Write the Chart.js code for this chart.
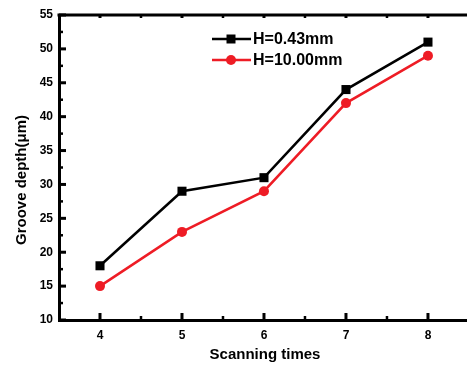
<!DOCTYPE html>
<html>
<head>
<meta charset="utf-8">
<script src="https://cdn.jsdelivr.net/npm/chart.js@4.4.1/dist/chart.umd.min.js"></script>
<style>
html,body{margin:0;padding:0;background:#fff;}
canvas{display:block;}
</style>
</head>
<body>
<canvas id="c" width="467" height="367"></canvas>
<script>
const scanningTimes = [4, 5, 6, 7, 8];
const depthH043 = [18, 29, 31, 44, 51];
const depthH1000 = [15, 23, 29, 42, 49];
const yTicks = [10, 15, 20, 25, 30, 35, 40, 45, 50, 55];
const seriesNames = ['H=0.43mm', 'H=10.00mm'];
const xTitle = 'Scanning times';
const yTitle = 'Groove depth(\u03bcm)';

const RED = '#ee1c25';
const FONT = '"Liberation Sans", Arial, sans-serif';

const axisDeco = {
  id: 'axisDeco',
  afterDraw(chart) {
    const ctx = chart.ctx;
    const xs = chart.scales.x, ys = chart.scales.y;
    const a = chart.chartArea;
    ctx.save();
    ctx.strokeStyle = '#000';
    // top axis line
    ctx.lineWidth = 3;
    ctx.beginPath();
    ctx.moveTo(a.left - 1.5, a.top);
    ctx.lineTo(chart.width, a.top);
    ctx.stroke();
    // y ticks (inward)
    for (let i = 0; i < yTicks.length; i++) {
      const v = yTicks[i];
      const py = ys.getPixelForValue(v);
      ctx.lineWidth = 3;
      ctx.beginPath(); ctx.moveTo(a.left, py); ctx.lineTo(a.left + 7, py); ctx.stroke();
      if (i < yTicks.length - 1) {
        const pm = ys.getPixelForValue((v + yTicks[i + 1]) / 2);
        ctx.lineWidth = 2.5;
        ctx.beginPath(); ctx.moveTo(a.left, pm); ctx.lineTo(a.left + 4, pm); ctx.stroke();
      }
    }
    // x ticks bottom and top
    for (let i = 0; i < scanningTimes.length; i++) {
      const v = scanningTimes[i];
      const px = xs.getPixelForValue(v);
      ctx.lineWidth = 3;
      ctx.beginPath(); ctx.moveTo(px, a.bottom); ctx.lineTo(px, a.bottom - 7); ctx.stroke();
      ctx.beginPath(); ctx.moveTo(px, a.top); ctx.lineTo(px, a.top + 3); ctx.stroke();
      const pm = xs.getPixelForValue(v + 0.5);
      ctx.lineWidth = 2.5;
      ctx.beginPath(); ctx.moveTo(pm, a.bottom); ctx.lineTo(pm, a.bottom - 4); ctx.stroke();
      ctx.beginPath(); ctx.moveTo(pm, a.top); ctx.lineTo(pm, a.top + 3); ctx.stroke();
    }
    // axis titles
    ctx.fillStyle = '#000';
    ctx.font = 'bold 15px ' + FONT;
    ctx.textAlign = 'center';
    ctx.textBaseline = 'middle';
    ctx.fillText(xTitle, 265, 355);
    ctx.save();
    ctx.translate(22, 180);
    ctx.rotate(-Math.PI / 2);
    ctx.fillText(yTitle, 0, 0);
    ctx.restore();
    // legend
    const rows = [39, 60];
    chart.data.datasets.forEach((ds, i) => {
      const y = rows[i];
      ctx.strokeStyle = ds.borderColor;
      ctx.lineWidth = 2.5;
      ctx.beginPath(); ctx.moveTo(212, y); ctx.lineTo(251, y); ctx.stroke();
      ctx.fillStyle = ds.backgroundColor;
      ctx.beginPath();
      if (ds.pointStyle === 'rect') {
        ctx.rect(231 - 4.5, y - 4.5, 9, 9);
      } else {
        ctx.arc(231, y, 5, 0, Math.PI * 2);
      }
      ctx.fill();
      ctx.fillStyle = '#000';
      ctx.font = 'bold 16px ' + FONT;
      ctx.textAlign = 'left';
      ctx.textBaseline = 'middle';
      ctx.fillText(ds.label, 253, y + 1);
    });
    ctx.restore();
  }
};

new Chart(document.getElementById('c'), {
  type: 'line',
  data: {
    datasets: [
      {
        label: seriesNames[0],
        data: scanningTimes.map((x, i) => ({ x, y: depthH043[i] })),
        borderColor: '#000',
        backgroundColor: '#000',
        borderWidth: 2.5,
        pointStyle: 'rect',
        pointRadius: 6.4,
        pointHoverRadius: 6.4,
        pointBorderWidth: 0,
        tension: 0
      },
      {
        label: seriesNames[1],
        data: scanningTimes.map((x, i) => ({ x, y: depthH1000[i] })),
        borderColor: RED,
        backgroundColor: RED,
        borderWidth: 2.5,
        pointStyle: 'circle',
        pointRadius: 5,
        pointHoverRadius: 5,
        pointBorderWidth: 0,
        tension: 0
      }
    ]
  },
  options: {
    responsive: false,
    animation: false,
    devicePixelRatio: 1,
    layout: { autoPadding: false, padding: { top: 15, right: 0, left: 0, bottom: 0 } },
    plugins: { legend: { display: false }, tooltip: { enabled: false } },
    scales: {
      x: {
        type: 'linear',
        min: 3.5,
        max: 8.476,
        afterBuildTicks: s => { s.ticks = scanningTimes.map(v => ({ value: v })); },
        afterFit: s => { s.height = 47; },
        grid: { display: false, drawTicks: false },
        border: { display: true, color: '#000', width: 3 },
        ticks: { color: '#000', font: { family: FONT, size: 12, weight: 'bold' }, padding: 8, maxRotation: 0 }
      },
      y: {
        type: 'linear',
        min: 10,
        max: 55,
        afterBuildTicks: s => { s.ticks = yTicks.map(v => ({ value: v })); },
        afterFit: s => { s.width = 59; },
        grid: { display: false, drawTicks: false },
        border: { display: true, color: '#000', width: 3 },
        ticks: { color: '#000', font: { family: FONT, size: 12, weight: 'bold' }, padding: 6 }
      }
    }
  },
  plugins: [axisDeco]
});
</script>
</body>
</html>
